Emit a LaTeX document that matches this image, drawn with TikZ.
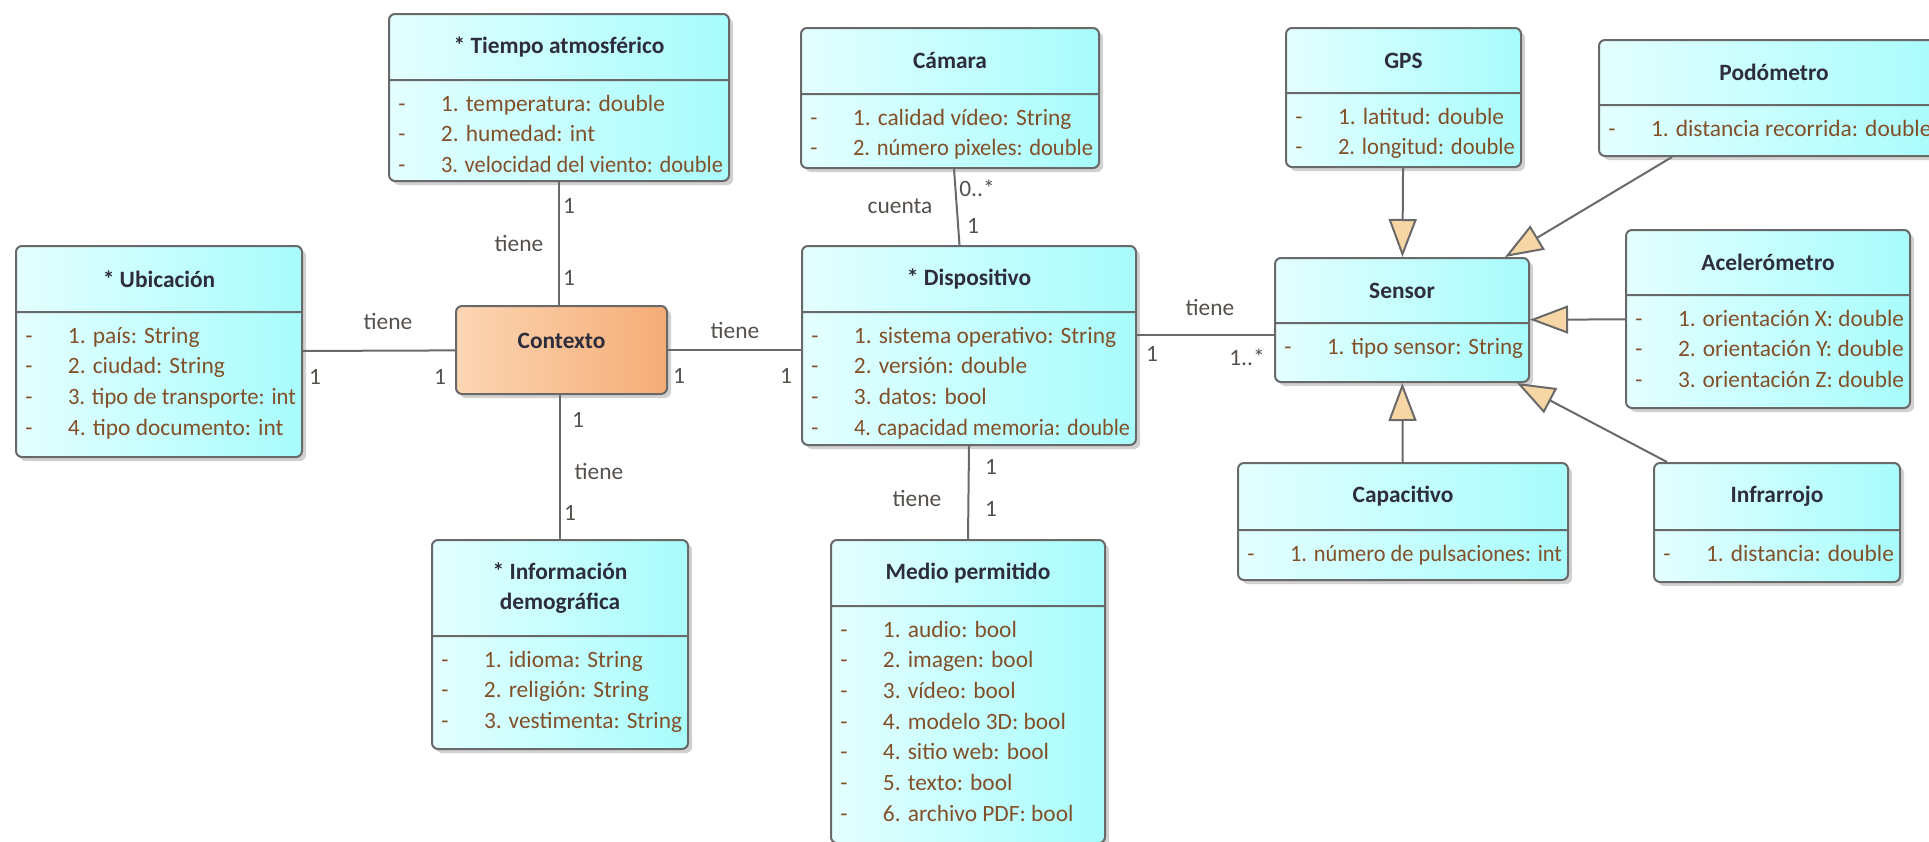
\documentclass[tikz,border=0pt]{standalone}
\usepackage{fontspec}
\setmainfont{Carlito}
\usepackage{graphicx}
\usepackage{tikz}
\usetikzlibrary{shapes.multipart, arrows.meta, shadows, calc}
\definecolor{cyanleft}{RGB}{228,255,255}
\definecolor{cyanright}{RGB}{168,252,252}
\definecolor{ctxleft}{RGB}{252,214,180}
\definecolor{ctxright}{RGB}{245,172,118}
\definecolor{edgegray}{RGB}{105,105,105}
\definecolor{titletext}{RGB}{45,45,60}
\definecolor{attrtext}{RGB}{130,80,40}
\definecolor{labeltext}{RGB}{85,80,75}
\definecolor{tipfill}{RGB}{247,214,166}

% one pixel of the drawing
\newlength{\pxu}
\setlength{\pxu}{0.5bp}
\newsavebox{\atbox}
% class header and attribute compartment
\newcommand{\cab}[3]{\parbox[c][#2\pxu][c]{#1\pxu}{\fontsize{11.7bp}{15bp}\selectfont\centering\bfseries\leavevmode\color{titletext}#3}}
\newcommand{\atr}[3]{\parbox[c][#2\pxu][t]{#1\pxu}{\fontsize{11.7bp}{15.35bp}\selectfont\lineskiplimit=-\maxdimen #3}}
\newcommand{\at}[1]{\par\noindent\rule{0pt}{30\pxu}\color{attrtext}\makebox[26\pxu][c]{-}\hspace{26\pxu}%
  \sbox{\atbox}{#1}\ifdim\wd\atbox>\dimexpr\linewidth-58\pxu\relax
  \resizebox{\dimexpr\linewidth-58\pxu\relax}{\height}{#1}\else #1\fi}

\begin{document}
\begin{tikzpicture}[x=0.5bp, y=-0.5bp,
    clase/.style={rectangle split, rectangle split parts=2, anchor=north west,
                  draw=edgegray, line width=1bp, rounded corners=3bp, inner sep=0pt,
                  left color=cyanleft, right color=cyanright,
                  drop shadow={shadow xshift=2bp, shadow yshift=-2bp, fill=black!45, opacity=0.4}},
    contexto/.style={rectangle, anchor=north west, draw=edgegray, line width=1bp,
                  rounded corners=3bp, minimum width=105.5bp, minimum height=44bp, inner sep=0pt,
                  left color=ctxleft, right color=ctxright, text=titletext, text depth=9bp,
                  font=\fontsize{11.7bp}{14bp}\selectfont\bfseries,
                  drop shadow={shadow xshift=2bp, shadow yshift=-2bp, fill=black!45, opacity=0.4}},
    assoc/.style={draw=edgegray, line width=1bp},
    gen/.style={assoc, -{Triangle[length=19bp, width=14bp, fill=tipfill]}},
    lbl/.style={text=labeltext, inner sep=0pt, font=\fontsize{11.7bp}{14bp}\selectfont}
]
    \useasboundingbox (0,0) rectangle (1929,841);

    % Context and its classes
    \node[contexto] (ctx) at (455,305) {Contexto};
    \node[clase] (ubic) at (15,245) {\cab{286}{64}{* Ubicación}\nodepart{second}\atr{286}{143}{%
        \at{1. país: String}\at{2. ciudad: String}\at{3. tipo de transporte: int}\at{4. tipo documento: int}}};
    \node[clase] (tiempo) at (388,13) {\cab{340}{64}{* Tiempo atmosférico}\nodepart{second}\atr{340}{99}{%
        \at{1. temperatura: double}\at{2. humedad: int}\at{3. velocidad del viento: double}}};
    \node[clase] (info) at (431,539) {\cab{256}{94}{* Información\\demográfica}\nodepart{second}\atr{256}{111}{%
        \at{1. idioma: String}\at{2. religión: String}\at{3. vestimenta: String}}};

    % Device and its classes
    \node[clase] (disp) at (801,245) {\cab{334}{64}{* Dispositivo}\nodepart{second}\atr{334}{131}{%
        \at{1. sistema operativo: String}\at{2. versión: double}\at{3. datos: bool}\at{4. capacidad memoria: double}}};
    \node[clase] (camara) at (800,27) {\cab{298}{64}{Cámara}\nodepart{second}\atr{298}{72}{%
        \at{1. calidad vídeo: String}\at{2. número pixeles: double}}};
    \node[clase] (medio) at (830,539) {\cab{274}{64}{Medio permitido}\nodepart{second}\atr{274}{235}{%
        \at{1. audio: bool}\at{2. imagen: bool}\at{3. vídeo: bool}\at{4. modelo 3D: bool}%
        \at{4. sitio web: bool}\at{5. texto: bool}\at{6. archivo PDF: bool}}};

    % Sensors
    \node[clase] (sensor) at (1274,257) {\cab{254}{63}{Sensor}\nodepart{second}\atr{254}{57}{%
        \at{1. tipo sensor: String}}};
    \node[clase] (gps) at (1285,27) {\cab{235}{63}{GPS}\nodepart{second}\atr{235}{72}{%
        \at{1. latitud: double}\at{2. longitud: double}}};
    \node[clase] (podo) at (1598,39) {\cab{350}{63}{Podómetro}\nodepart{second}\atr{350}{49}{%
        \at{1. distancia recorrida: double}}};
    \node[clase] (acel) at (1625,229) {\cab{284}{63}{Acelerómetro}\nodepart{second}\atr{284}{111}{%
        \at{1. orientación X: double}\at{2. orientación Y: double}\at{3. orientación Z: double}}};
    \node[clase] (capac) at (1237,462) {\cab{330}{65}{Capacitivo}\nodepart{second}\atr{330}{48}{%
        \at{1. número de pulsaciones: int}}};
    \node[clase] (infra) at (1653,462) {\cab{246}{65}{Infrarrojo}\nodepart{second}\atr{246}{50}{%
        \at{1. distancia: double}}};

    % Associations
    \draw[assoc] (ubic) -- (ctx);
    \draw[assoc] (tiempo.south) -- (tiempo.south |- ctx.north);
    \draw[assoc] (info.north |- ctx.south) -- (info.north);
    \draw[assoc] (ctx.east) -- (ctx.east -| disp.west);
    \draw[assoc] ([xshift=2bp]camara.south) -- ([xshift=-4.75bp]disp.north);
    \draw[assoc] (disp.south) -- (medio.north);
    \draw[assoc] ([yshift=-7.5bp]sensor.west -| disp.east) -- ([yshift=-7.5bp]sensor.west);

    % Generalizations
    \draw[gen] (gps) -- (sensor);
    \draw[gen] ([xshift=37bp]podo.south west) -- ([xshift=-12.5bp]sensor.north east);
    \draw[gen] (acel) -- (sensor);
    \draw[gen] (capac) -- (sensor);
    \draw[gen] ([xshift=7bp]infra.north west) -- ([xshift=-6.5bp]sensor.south east);

    % Roles and multiplicities
    \node[lbl] (uc-n) at (388,321) {tiene};
    \node[lbl] (uc-a) at (315,377) {1};
    \node[lbl] (uc-b) at (440,377) {1};
    \node[lbl] (tc-a) at (569,206) {1};
    \node[lbl] (tc-n) at (519,243) {tiene};
    \node[lbl] (tc-b) at (569,278) {1};
    \node[lbl] (cd-n) at (735,330) {tiene};
    \node[lbl] (cd-a) at (679,376) {1};
    \node[lbl] (cd-b) at (786,376) {1};
    \node[lbl] (ci-a) at (578,420) {1};
    \node[lbl] (ci-n) at (599,471) {tiene};
    \node[lbl] (ci-b) at (570,513) {1};
    \node[lbl] (kd-a) at (977,188) {0..*};
    \node[lbl] (kd-n) at (900,206) {cuenta};
    \node[lbl] (kd-b) at (973,226) {1};
    \node[lbl] (dm-a) at (991,467) {1};
    \node[lbl] (dm-n) at (917,498) {tiene};
    \node[lbl] (dm-b) at (991,509) {1};
    \node[lbl] (ds-n) at (1210,307) {tiene};
    \node[lbl] (ds-a) at (1152,354) {1};
    \node[lbl] (ds-b) at (1247,357) {1..*};
\end{tikzpicture}
\end{document}
